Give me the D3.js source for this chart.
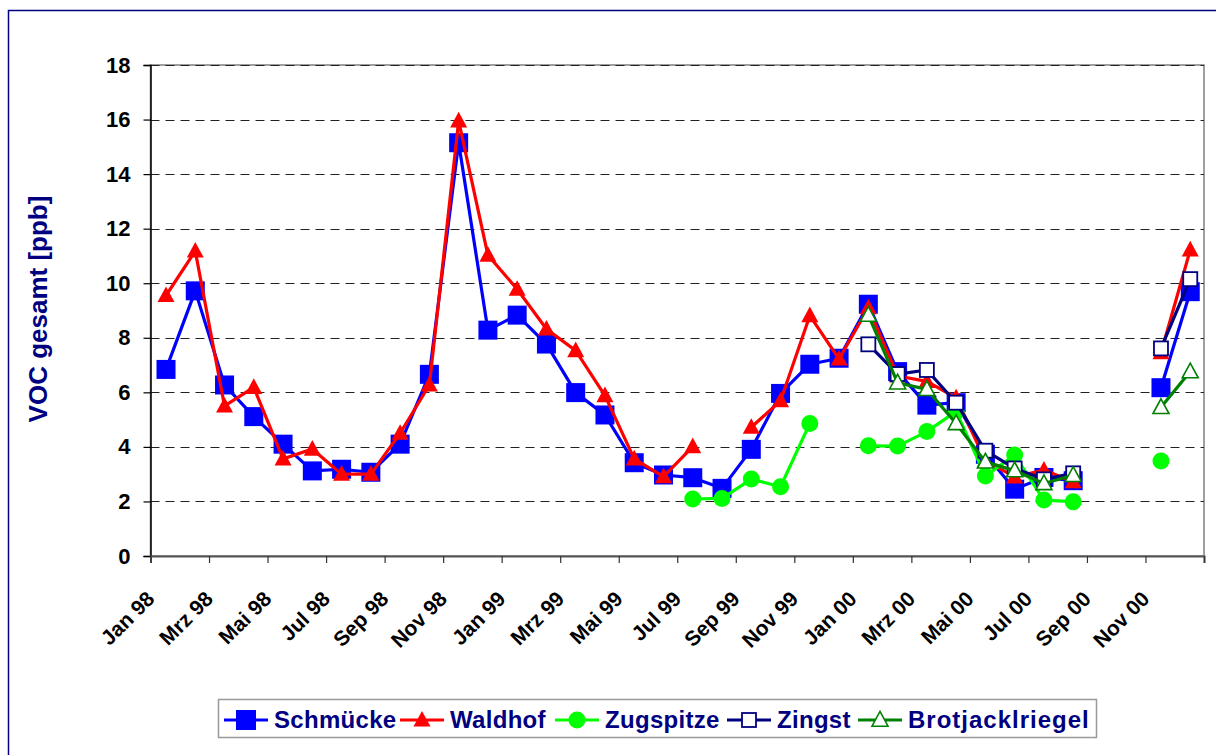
<!DOCTYPE html>
<html>
<head>
<meta charset="utf-8">
<script src="https://cdn.jsdelivr.net/npm/d3@7"></script>
<style>
  html, body { margin: 0; padding: 0; background: #fff; }
  svg { display: block; font-family: "Liberation Sans", Arial, sans-serif; }
</style>
</head>
<body>
<svg id="chart" width="1216" height="755"></svg>
<script>
// ---- data (one value per month, Jan 98 .. Dec 00; null = no measurement) ----
const months = d3.range(36);
const tickLabels = ["Jan 98","Mrz 98","Mai 98","Jul 98","Sep 98","Nov 98",
                    "Jan 99","Mrz 99","Mai 99","Jul 99","Sep 99","Nov 99",
                    "Jan 00","Mrz 00","Mai 00","Jul 00","Sep 00","Nov 00"];
const yTicks = [0, 2, 4, 6, 8, 10, 12, 14, 16, 18];

const schmuecke = [6.84, 9.72, 6.27, 5.11, 4.10, 3.12, 3.18, 3.07, 4.10, 6.66, 15.15, 8.28,
                   8.83, 7.77, 5.99, 5.17, 3.42, 2.97, 2.87, 2.48, 3.91, 5.96, 7.03, 7.25,
                   9.23, 6.76, 5.53, 5.62, 3.73, 2.45, 2.88, 2.76, null, null, 6.17, 9.69];
const waldhof   = [9.55, 11.18, 5.50, 6.18, 3.56, 3.92, 3.00, 3.00, 4.50, 6.27, 15.95, 11.03,
                   9.78, 8.32, 7.53, 5.88, 3.56, 2.91, 4.01, null, 4.72, 5.69, 8.81, 7.22,
                   9.10, 6.60, 6.40, 5.80, 3.50, 2.90, 3.15, 2.72, null, null, 7.45, 11.22];
const zugspitze = [null, null, null, null, null, null, null, null, null, null, null, null,
                   null, null, null, null, null, null, 2.09, 2.11, 2.82, 2.54, 4.86, null,
                   4.04, 4.03, 4.56, 5.30, 2.93, 3.70, 2.05, 1.99, null, null, 3.48, null];
const zingst    = [null, null, null, null, null, null, null, null, null, null, null, null,
                   null, null, null, null, null, null, null, null, null, null, null, null,
                   7.76, 6.67, 6.82, 5.62, 3.86, 3.21, 2.81, 3.03, null, null, 7.61, 10.15];
const brotjack  = [null, null, null, null, null, null, null, null, null, null, null, null,
                   null, null, null, null, null, null, null, null, null, null, null, null,
                   8.83, 6.35, 6.11, 4.86, 3.45, 3.13, 2.66, 2.96, null, null, 5.45, 6.76];

const seriesNames = ["Schmücke", "Waldhof", "Zugspitze", "Zingst", "Brotjacklriegel"];
const seriesValues = [schmuecke, waldhof, zugspitze, zingst, brotjack];
const seriesStyle = [
  {line: "#0000FF", marker: "square",   fill: "#0000FF", stroke: "#0000FF", size: 19},
  {line: "#FF0000", marker: "triangle", fill: "#FF0000", stroke: "#FF0000", size: 17},
  {line: "#00FF00", marker: "circle",   fill: "#00FF00", stroke: "#00FF00", size: 17},
  {line: "#000080", marker: "square",   fill: "#FFFFFF", stroke: "#000080", size: 14},
  {line: "#008000", marker: "triangle", fill: "#FFFFFF", stroke: "#008000", size: 16}
];
// legend item start positions (layout)
const legendX = [224, 400, 555, 727, 858];

// ---- layout ----
const svg = d3.select("#chart");
const plot = {left: 150.5, right: 1204, top: 65, bottom: 556};

const x = d3.scaleLinear().domain([0, 36]).range([plot.left, plot.right]);
const y = d3.scaleLinear().domain([0, 18]).range([plot.bottom, plot.top]);
const px = i => x(i + 0.53);

// outer chart border
svg.append("rect").attr("x", 8.5).attr("y", 10.5).attr("width", 1215).attr("height", 760)
  .attr("fill", "#fff").attr("stroke", "#000080").attr("stroke-width", 1.5);

// plot area border
svg.append("rect").attr("x", plot.left).attr("y", plot.top)
  .attr("width", plot.right - plot.left).attr("height", plot.bottom - plot.top)
  .attr("fill", "#fff").attr("stroke", "#808080").attr("stroke-width", 1.5);

// gridlines
svg.append("g").selectAll("line").data(yTicks.filter(v => v > 0)).join("line")
  .attr("x1", plot.left).attr("x2", plot.right)
  .attr("y1", d => Math.round(y(d)) + 0.5).attr("y2", d => Math.round(y(d)) + 0.5)
  .attr("stroke", "#222").attr("stroke-width", 1).attr("stroke-dasharray", "9,6");

// y axis
const yAxis = d3.axisLeft(y).tickValues(yTicks).tickSize(7).tickPadding(13).tickFormat(d3.format("d"));
const gy = svg.append("g").attr("transform", `translate(${plot.left},0)`).call(yAxis);
gy.select(".domain").attr("stroke", "#000").attr("stroke-width", 1.5);
gy.selectAll(".tick line").attr("stroke", "#000").attr("stroke-width", 1.2);
gy.selectAll(".tick text").attr("font-size", 22).attr("font-weight", "bold").attr("fill", "#000")
  .attr("font-family", "'Liberation Sans', Arial, sans-serif");

// x axis
const xTickVals = d3.range(0, 37, 2);
const xAxis = d3.axisBottom(x).tickValues(xTickVals).tickSize(7).tickFormat("");
const gx = svg.append("g").attr("transform", `translate(0,${plot.bottom})`).call(xAxis);
gx.select(".domain").attr("stroke", "#555").attr("stroke-width", 2);
gx.selectAll(".tick line").attr("stroke", "#333").attr("stroke-width", 1.2);

// x tick labels, rotated
svg.append("g").selectAll("text").data(tickLabels).join("text")
  .attr("transform", (d, i) => `translate(${x(i * 2)},595) rotate(-45)`)
  .attr("text-anchor", "end").attr("dy", "0.35em")
  .attr("font-size", 21).attr("font-weight", "bold").attr("fill", "#000")
  .text(d => d);

// y axis title
svg.append("text").attr("transform", "translate(47,309) rotate(-90)")
  .attr("text-anchor", "middle").attr("font-size", 26).attr("font-weight", "bold")
  .attr("fill", "#000080").text("VOC gesamt [ppb]");

// marker drawing
function drawMarker(g, style, cx, cy, size) {
  if (style.marker === "square") {
    g.append("rect").attr("x", cx - size / 2).attr("y", cy - size / 2)
      .attr("width", size).attr("height", size)
      .attr("fill", style.fill).attr("stroke", style.stroke)
      .attr("stroke-width", style.fill === "#FFFFFF" ? 1.8 : 0);
  } else if (style.marker === "circle") {
    g.append("circle").attr("cx", cx).attr("cy", cy).attr("r", size / 2)
      .attr("fill", style.fill);
  } else {
    const h = size * 0.92, w = size;
    g.append("path")
      .attr("d", `M${cx},${cy - h * 0.58}L${cx + w / 2},${cy + h * 0.42}L${cx - w / 2},${cy + h * 0.42}Z`)
      .attr("fill", style.fill).attr("stroke", style.stroke)
      .attr("stroke-width", style.fill === "#FFFFFF" ? 1.6 : 0);
  }
}

// series
const line = d3.line().defined(d => d.v !== null).x(d => px(d.i)).y(d => y(d.v));
seriesValues.forEach((vals, s) => {
  const st = seriesStyle[s];
  const pts = months.map(i => ({i, v: vals[i]}));
  const g = svg.append("g");
  g.append("path").datum(pts).attr("d", line)
    .attr("fill", "none").attr("stroke", st.line).attr("stroke-width", 3.2)
    .attr("stroke-linejoin", "round");
  pts.filter(d => d.v !== null).forEach(d => drawMarker(g, st, px(d.i), y(d.v), st.size));
});

// legend
const leg = svg.append("g");
leg.append("rect").attr("x", 218.5).attr("y", 699.5).attr("width", 878).attr("height", 38)
  .attr("fill", "#fff").attr("stroke", "#999").attr("stroke-width", 1.5);
const ly = 720;
seriesNames.forEach((name, s) => {
  const st = seriesStyle[s];
  const lx = legendX[s];
  const g = leg.append("g");
  g.append("line").attr("x1", lx).attr("x2", lx + 44).attr("y1", ly).attr("y2", ly)
    .attr("stroke", st.line).attr("stroke-width", 3.2);
  const msize = st.marker === "square" && st.fill !== "#FFFFFF" ? 20 : st.size;
  drawMarker(g, st, lx + 22, ly, msize);
  g.append("text").attr("x", lx + 50).attr("y", ly).attr("dy", "0.35em")
    .attr("font-size", 24).attr("font-weight", "bold").attr("fill", "#000080")
    .attr("letter-spacing", s === 4 ? 1 : 0.3).text(name);
});
</script>
</body>
</html>
